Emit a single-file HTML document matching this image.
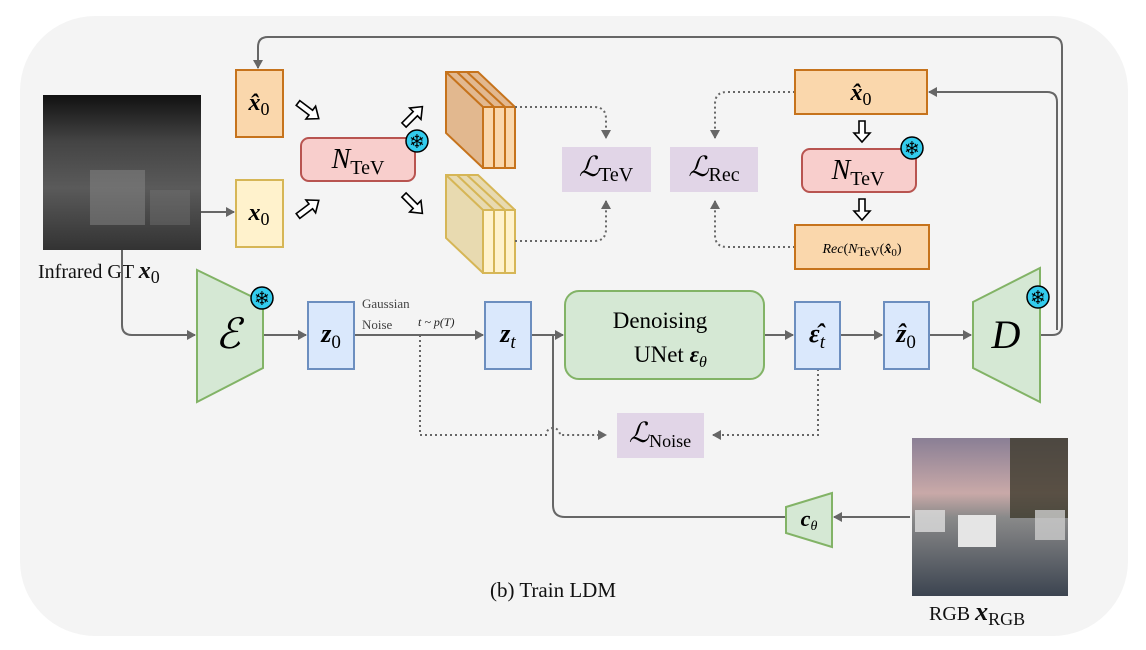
<!DOCTYPE html>
<html><head><meta charset="utf-8"><style>
html,body{margin:0;padding:0;background:#fff;}
svg{display:block;font-family:"Liberation Serif",serif;}
</style></head><body>
<svg width="1146" height="650" viewBox="0 0 1146 650" xmlns="http://www.w3.org/2000/svg">
<defs>
<marker id="ah" markerWidth="10" markerHeight="10" refX="8" refY="5" orient="auto" markerUnits="userSpaceOnUse"><path d="M0,0 L9,5 L0,10 z" fill="#666"/></marker>
<linearGradient id="ir" x1="0" y1="0" x2="0" y2="1"><stop offset="0" stop-color="#111"/><stop offset="0.3" stop-color="#444"/><stop offset="0.6" stop-color="#5a5a5a"/><stop offset="1" stop-color="#333"/></linearGradient>
<linearGradient id="rgb" x1="0" y1="0" x2="0" y2="1"><stop offset="0" stop-color="#8a7f95"/><stop offset="0.35" stop-color="#c9a9a8"/><stop offset="0.5" stop-color="#8a8a8a"/><stop offset="1" stop-color="#3c4450"/></linearGradient>
</defs>
<rect x="20" y="16" width="1108" height="620" rx="75" fill="#f4f4f4"/>

<!-- infrared image -->
<rect x="43" y="95" width="158" height="155" fill="url(#ir)"/>
<rect x="90" y="170" width="55" height="55" fill="#888" opacity="0.5"/>
<rect x="150" y="190" width="40" height="35" fill="#777" opacity="0.4"/>
<text x="38" y="278" font-size="20" fill="#111">Infrared GT <tspan font-weight="bold" font-style="italic" font-size="24">x</tspan><tspan font-size="18" dy="5">0</tspan></text>

<!-- top-left boxes -->
<rect x="236" y="70" width="47" height="67" fill="#fad7ac" stroke="#c6731c" stroke-width="2"/>
<text x="259" y="110" font-size="24" text-anchor="middle"><tspan font-weight="bold" font-style="italic">x̂</tspan><tspan font-size="18" dy="5">0</tspan></text>
<rect x="236" y="180" width="47" height="67" fill="#fff2cc" stroke="#d6b656" stroke-width="2"/>
<text x="259" y="220" font-size="24" text-anchor="middle"><tspan font-weight="bold" font-style="italic">x</tspan><tspan font-size="18" dy="5">0</tspan></text>
<line x1="201" y1="212" x2="234" y2="212" stroke="#666" stroke-width="2" marker-end="url(#ah)"/>

<!-- hollow arrows -->
<g fill="#fff" stroke="#000" stroke-width="1.6">
<path d="M0,-3 L16,-3 L16,-8 L26,0 L16,8 L16,3 L0,3 Z" transform="translate(298,103) rotate(37)"/>
<path d="M0,-3 L16,-3 L16,-8 L26,0 L16,8 L16,3 L0,3 Z" transform="translate(298,216) rotate(-37)"/>
<path d="M0,-3 L16,-3 L16,-8 L26,0 L16,8 L16,3 L0,3 Z" transform="translate(404,125) rotate(-45)"/>
<path d="M0,-3 L16,-3 L16,-8 L26,0 L16,8 L16,3 L0,3 Z" transform="translate(404,195) rotate(45)"/>
<path d="M0,-3 L12,-3 L12,-8 L21,0 L12,8 L12,3 L0,3 Z" transform="translate(862,121) rotate(90)"/>
<path d="M0,-3 L12,-3 L12,-8 L21,0 L12,8 L12,3 L0,3 Z" transform="translate(862,199) rotate(90)"/>
</g>

<!-- N_TeV left -->
<rect x="301" y="138" width="114" height="43" rx="8" fill="#f8cecc" stroke="#b85450" stroke-width="2"/>
<text x="358" y="168" font-size="28" text-anchor="middle"><tspan font-style="italic">N</tspan><tspan font-size="20" dy="6">TeV</tspan></text>

<!-- cuboids -->
<g stroke="#c6731c" stroke-width="2" fill="#fad7ac">
<path d="M446,72 L478,72 L515,107 L515,168 L483,168 L446,133 Z" fill="#e2b88f"/>
<rect x="483" y="107" width="32" height="61"/>
<line x1="494" y1="107" x2="494" y2="168"/><line x1="505" y1="107" x2="505" y2="168"/>
<line x1="446" y1="72" x2="483" y2="107"/><line x1="457" y1="72" x2="494" y2="107"/><line x1="467" y1="72" x2="505" y2="107"/>
</g>
<g stroke="#d6b656" stroke-width="2" fill="#fff2cc">
<path d="M446,175 L478,175 L515,210 L515,273 L483,273 L446,238 Z" fill="#e8dab0"/>
<rect x="483" y="210" width="32" height="63"/>
<line x1="494" y1="210" x2="494" y2="273"/><line x1="505" y1="210" x2="505" y2="273"/>
<line x1="446" y1="175" x2="483" y2="210"/><line x1="457" y1="175" x2="494" y2="210"/><line x1="467" y1="175" x2="505" y2="210"/>
</g>

<!-- loss boxes -->
<rect x="562" y="147" width="89" height="45" fill="#e1d5e7"/>
<text x="606" y="176" font-size="28" text-anchor="middle"><tspan font-style="italic">ℒ</tspan><tspan font-size="20" dy="5">TeV</tspan></text>
<rect x="670" y="147" width="88" height="45" fill="#e1d5e7"/>
<text x="714" y="176" font-size="28" text-anchor="middle"><tspan font-style="italic">ℒ</tspan><tspan font-size="20" dy="5">Rec</tspan></text>
<rect x="617" y="413" width="87" height="45" fill="#e1d5e7"/>
<text x="660" y="442" font-size="28" text-anchor="middle"><tspan font-style="italic">ℒ</tspan><tspan font-size="18" dy="5">Noise</tspan></text>

<g fill="none" stroke="#666" stroke-width="2" stroke-dasharray="2,3">
<path d="M515,107 L594,107 Q606,107 606,119 L606,138" marker-end="url(#ah)"/>
<path d="M515,241 L594,241 Q606,241 606,229 L606,201" marker-end="url(#ah)"/>
<path d="M795,92 L727,92 Q715,92 715,104 L715,138" marker-end="url(#ah)"/>
<path d="M795,247 L727,247 Q715,247 715,235 L715,201" marker-end="url(#ah)"/>
<path d="M420,335 L420,435 L546,435 A7,7 0 0 1 560,435 L606,435" marker-end="url(#ah)"/>
<path d="M818,369 L818,435 L713,435" marker-end="url(#ah)"/>
</g>

<!-- right top boxes -->
<rect x="795" y="70" width="132" height="44" fill="#fad7ac" stroke="#c6731c" stroke-width="2"/>
<text x="861" y="100" font-size="24" text-anchor="middle"><tspan font-weight="bold" font-style="italic">x̂</tspan><tspan font-size="18" dy="5">0</tspan></text>
<rect x="802" y="149" width="114" height="43" rx="8" fill="#f8cecc" stroke="#b85450" stroke-width="2"/>
<text x="858" y="179" font-size="28" text-anchor="middle"><tspan font-style="italic">N</tspan><tspan font-size="20" dy="6">TeV</tspan></text>
<rect x="795" y="225" width="134" height="44" fill="#fad7ac" stroke="#c6731c" stroke-width="2"/>
<text x="862" y="253" font-size="14" text-anchor="middle"><tspan font-style="italic">Rec</tspan>(<tspan font-style="italic">N</tspan><tspan font-size="13" dy="3">TeV</tspan><tspan dy="-3">(</tspan><tspan font-style="italic" font-weight="bold">x̂</tspan><tspan font-size="11" dy="3">0</tspan><tspan dy="-3">)</tspan></text>

<!-- lines -->
<g fill="none" stroke="#666" stroke-width="2">
<path d="M1040,335 L1052,335 Q1062,335 1062,325 L1062,47 Q1062,37 1052,37 L268,37 Q258,37 258,47 L258,68" marker-end="url(#ah)"/>
<path d="M1057,330 L1057,102 Q1057,92 1047,92 L929,92" marker-end="url(#ah)"/>
<path d="M122,250 L122,325 Q122,335 132,335 L195,335" marker-end="url(#ah)"/>
<path d="M263,335 L306,335" marker-end="url(#ah)"/>
<path d="M354,335 L483,335" marker-end="url(#ah)"/>
<path d="M531,335 L563,335" marker-end="url(#ah)"/>
<path d="M764,335 L793,335" marker-end="url(#ah)"/>
<path d="M840,335 L882,335" marker-end="url(#ah)"/>
<path d="M929,335 L971,335" marker-end="url(#ah)"/>
<path d="M785,517 L565,517 Q553,517 553,505 L553,335"/>
<path d="M910,517 L834,517" marker-end="url(#ah)"/>
</g>

<!-- encoder / decoder -->
<path d="M197,270 L263,302 L263,368 L197,402 Z" fill="#d5e8d4" stroke="#82b366" stroke-width="2"/>
<text x="228" y="348" font-size="42" font-style="italic" text-anchor="middle">ℰ</text>
<path d="M973,302 L1040,268 L1040,402 L973,368 Z" fill="#d5e8d4" stroke="#82b366" stroke-width="2"/>
<text x="1006" y="348" font-size="40" font-style="italic" text-anchor="middle">D</text>
<path d="M786,507 L832,493 L832,547 L786,533 Z" fill="#d5e8d4" stroke="#82b366" stroke-width="2"/>
<text x="809" y="526" font-size="22" text-anchor="middle"><tspan font-weight="bold" font-style="italic">c</tspan><tspan font-size="14" font-style="italic" dy="4">θ</tspan></text>

<!-- latent boxes -->
<g fill="#dae8fc" stroke="#6c8ebf" stroke-width="2">
<rect x="308" y="302" width="46" height="67"/>
<rect x="485" y="302" width="46" height="67"/>
<rect x="795" y="302" width="45" height="67"/>
<rect x="884" y="302" width="45" height="67"/>
</g>
<text x="331" y="342" font-size="26" text-anchor="middle"><tspan font-weight="bold" font-style="italic">z</tspan><tspan font-size="19" dy="6">0</tspan></text>
<text x="508" y="342" font-size="26" text-anchor="middle"><tspan font-weight="bold" font-style="italic">z</tspan><tspan font-size="19" font-style="italic" dy="6">t</tspan></text>
<text x="817" y="342" font-size="26" text-anchor="middle"><tspan font-weight="bold" font-style="italic">ε̂</tspan><tspan font-size="19" font-style="italic" dy="6">t</tspan></text>
<text x="906" y="342" font-size="26" text-anchor="middle"><tspan font-weight="bold" font-style="italic">ẑ</tspan><tspan font-size="19" dy="6">0</tspan></text>

<text x="362" y="308" font-size="13" fill="#444">Gaussian</text>
<text x="362" y="329" font-size="13" fill="#444">Noise</text>
<text x="418" y="326" font-size="12" font-style="italic" fill="#222">t ~ p(T)</text>

<!-- UNet -->
<rect x="565" y="291" width="199" height="88" rx="14" fill="#d5e8d4" stroke="#82b366" stroke-width="2"/>
<text x="660" y="328" font-size="23" text-anchor="middle">Denoising</text>
<text x="634" y="362" font-size="23">UNet  <tspan font-weight="bold" font-style="italic">ε</tspan><tspan font-size="16" font-style="italic" dy="5">θ</tspan></text>

<!-- snowflakes -->
<g>
<circle cx="417" cy="141" r="11" fill="#33ccee" stroke="#000" stroke-width="1.5"/>
<circle cx="262" cy="298" r="11" fill="#33ccee" stroke="#000" stroke-width="1.5"/>
<circle cx="912" cy="148" r="11" fill="#33ccee" stroke="#000" stroke-width="1.5"/>
<circle cx="1038" cy="297" r="11" fill="#33ccee" stroke="#000" stroke-width="1.5"/>
</g>
<g font-family="DejaVu Sans,sans-serif" font-size="19" fill="#000" text-anchor="middle">
<text x="417" y="148">❄</text>
<text x="262" y="305">❄</text>
<text x="912" y="155">❄</text>
<text x="1038" y="304">❄</text>
</g>

<!-- RGB image -->
<rect x="912" y="438" width="156" height="158" fill="url(#rgb)"/>
<rect x="1010" y="438" width="58" height="80" fill="#3d3a2c" opacity="0.8"/>
<rect x="958" y="515" width="38" height="32" fill="#e5e5e5"/>
<rect x="1035" y="510" width="30" height="30" fill="#ccc" opacity="0.8"/>
<rect x="915" y="510" width="30" height="22" fill="#ddd" opacity="0.8"/>
<text x="929" y="620" font-size="20" fill="#111">RGB  <tspan font-weight="bold" font-style="italic" font-size="26">x</tspan><tspan font-size="18" dy="5">RGB</tspan></text>

<text x="553" y="597" font-size="21" text-anchor="middle" fill="#111">(b) Train LDM</text>
</svg>
</body></html>
